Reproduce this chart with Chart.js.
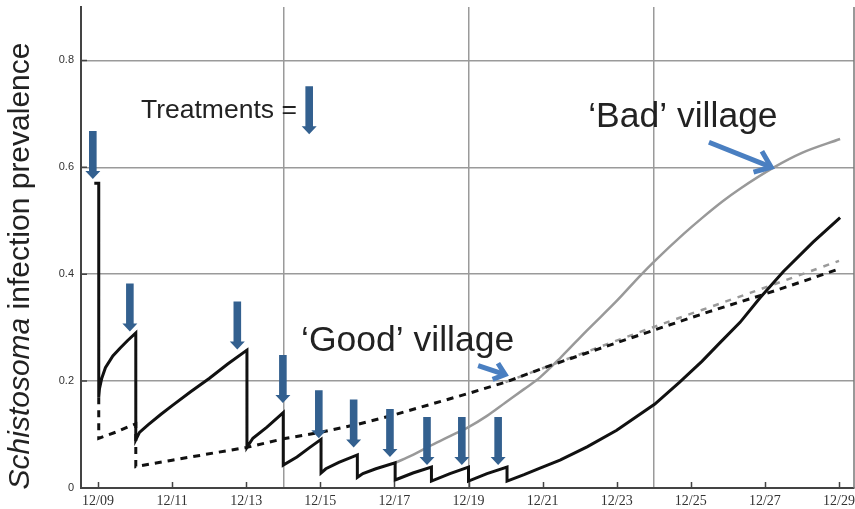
<!DOCTYPE html>
<html><head><meta charset="utf-8">
<script src="https://cdn.jsdelivr.net/npm/chart.js@4/dist/chart.umd.min.js"></script>
<style>html,body{margin:0;padding:0;background:#fff}#wrap{width:855px;height:509px}</style>
</head><body><div id="wrap"><canvas id="c" width="855" height="509"></canvas></div>
<script>
// ---- tick labels / axes ----
const tickYears = [2009, 2011, 2013, 2015, 2017, 2019, 2021, 2023, 2025, 2027, 2029];
const gridYears = [2014, 2019, 2024];
const yTicks = [0, 0.2, 0.4, 0.6, 0.8];

// ---- series: treated village (black solid, sawtooth + rebound) ----
const solidYears = [2008.9, 2009.02, 2009.02, 2009.04, 2009.1, 2009.2, 2009.4, 2009.6, 2009.8, 2010.02,
  2010.02, 2010.12, 2010.35, 2010.7, 2011.02, 2011.5, 2012.0, 2012.5, 2013.02,
  2013.02, 2013.18, 2013.56, 2014.0,
  2014.0, 2014.37, 2014.7, 2015.02,
  2015.02, 2015.15, 2015.5, 2016.0,
  2016.0, 2016.15, 2016.5, 2017.02,
  2017.02, 2017.5, 2018.0,
  2018.0, 2018.5, 2019.0,
  2019.0, 2019.5, 2020.04,
  2020.04, 2020.5, 2020.93, 2021.47, 2022.2, 2023.0, 2024.03, 2024.7, 2025.3, 2025.79, 2026.33, 2026.87, 2027.5, 2028.3, 2029.03];
const solidValues = [0.57, 0.57, 0.17, 0.186, 0.205, 0.225, 0.247, 0.262, 0.276, 0.29,
  0.09, 0.104, 0.118, 0.138, 0.155, 0.18, 0.205, 0.232, 0.258,
  0.076, 0.093, 0.114, 0.141,
  0.043, 0.058, 0.075, 0.091,
  0.028, 0.036, 0.048, 0.062,
  0.02, 0.027, 0.036, 0.047,
  0.015, 0.028, 0.039,
  0.013, 0.027, 0.039,
  0.013, 0.027, 0.039,
  0.013, 0.025, 0.037, 0.052, 0.077, 0.108, 0.157, 0.198, 0.237, 0.272, 0.31, 0.356, 0.405, 0.46, 0.506];

// ---- black dashed ----
const dashYears = [2009.02, 2009.02, 2009.5, 2009.86, 2010.02, 2010.02, 2010.5, 2011.0, 2011.75, 2012.5, 2013.02,
  2014.0, 2015.0, 2016.0, 2017.0, 2018.0, 2019.0, 2020.0, 2021.2, 2022.5, 2024.03, 2025.5, 2026.87, 2028.0, 2029.0];
const dashValues = [0.17, 0.093, 0.105, 0.116, 0.12, 0.04, 0.046, 0.052, 0.061, 0.07, 0.076,
  0.092, 0.104, 0.119, 0.137, 0.157, 0.177, 0.198, 0.229, 0.26, 0.296, 0.33, 0.36, 0.386, 0.41];

// ---- grey dashed ----
const greyDashYears = [2020.0, 2022.0, 2024.03, 2026.6, 2029.0];
const greyDashValues = [0.198, 0.25, 0.302, 0.365, 0.425];

// ---- grey solid ('Bad' village) ----
const greyYears = [2017.02, 2017.5, 2018.0, 2018.5, 2019.0, 2019.5, 2020.0, 2020.5, 2020.93, 2021.5, 2022.2, 2023.0,
  2023.63, 2024.03, 2024.8, 2025.3, 2025.87, 2026.33, 2027.22, 2028.0, 2029.03];
const greyValues = [0.047, 0.062, 0.08, 0.097, 0.114, 0.135, 0.16, 0.185, 0.207, 0.245, 0.295, 0.35,
  0.397, 0.425, 0.475, 0.505, 0.537, 0.56, 0.599, 0.627, 0.653];

// ---- treatments ----
const treatmentYears = [2008.86, 2009.86, 2012.76, 2013.99, 2014.96, 2015.9, 2016.88, 2017.88, 2018.82, 2019.8];
const treatmentArrowTips = [0.578, 0.293, 0.259, 0.159, 0.093, 0.076, 0.058, 0.043, 0.043, 0.043];

const pts = (xs, ys) => xs.map((x, i) => ({x, y: ys[i]}));

const annot = {
  id: 'annot',
  afterDatasetsDraw(chart) {
    const {ctx, scales: {x, y}, chartArea: ca} = chart;
    const X = v => x.getPixelForValue(v), Y = v => y.getPixelForValue(v);
    ctx.save();
    // inside tick marks
    ctx.strokeStyle = '#444'; ctx.lineWidth = 1.5;
    ctx.beginPath();
    tickYears.forEach(t => { const p = Math.round(X(t)) + 0.5; ctx.moveTo(p, ca.bottom); ctx.lineTo(p, ca.bottom - 6); });
    yTicks.forEach(v => { if (v > 0) { const p = Y(v); ctx.moveTo(ca.left, p); ctx.lineTo(ca.left + 6, p); } });
    ctx.stroke();
    // right frame
    ctx.strokeStyle = '#777'; ctx.lineWidth = 1.5;
    ctx.beginPath(); ctx.moveTo(ca.right, ca.top); ctx.lineTo(ca.right, ca.bottom); ctx.stroke();

    // treatment arrows
    const down = (px, tipY) => {
      const len = 48, hw = 3.8, hh = 7.5, hl = 8;
      ctx.fillStyle = '#33608f';
      ctx.beginPath();
      ctx.moveTo(px - hw, tipY - len);
      ctx.lineTo(px + hw, tipY - len);
      ctx.lineTo(px + hw, tipY - hl);
      ctx.lineTo(px + hh, tipY - hl);
      ctx.lineTo(px, tipY);
      ctx.lineTo(px - hh, tipY - hl);
      ctx.lineTo(px - hw, tipY - hl);
      ctx.closePath(); ctx.fill();
    };
    treatmentYears.forEach((t, i) => down(X(t), Y(treatmentArrowTips[i])));
    down(X(2014.7), Y(0.662));

    // callout arrows
    const callout = (x0, y0, x1, y1, head) => {
      ctx.strokeStyle = '#4a7fc1'; ctx.lineWidth = 5; ctx.lineCap = 'butt'; ctx.lineJoin = 'miter';
      const a = Math.atan2(y1 - y0, x1 - x0);
      ctx.beginPath(); ctx.moveTo(x0, y0); ctx.lineTo(x1 - 2 * Math.cos(a), y1 - 2 * Math.sin(a)); ctx.stroke();
      ctx.beginPath();
      ctx.moveTo(x1 - head * Math.cos(a - 0.6), y1 - head * Math.sin(a - 0.6));
      ctx.lineTo(x1 - 2 * Math.cos(a), y1 - 2 * Math.sin(a));
      ctx.lineTo(x1 - head * Math.cos(a + 0.6), y1 - head * Math.sin(a + 0.6));
      ctx.stroke();
    };
    callout(X(2025.49), Y(0.647), X(2027.22), Y(0.599), 20);
    callout(X(2019.26), Y(0.229), X(2020.04), Y(0.211), 15);

    // texts
    ctx.fillStyle = '#222'; ctx.textBaseline = 'alphabetic'; ctx.textAlign = 'left';
    ctx.font = '26.5px "Liberation Sans", Arial, sans-serif';
    ctx.fillText('Treatments =', X(2010.16), Y(0.692));
    ctx.font = '35.5px "Liberation Sans", Arial, sans-serif';
    ctx.fillText('\u2018Bad\u2019 village', X(2022.23), Y(0.675));
    ctx.fillText('\u2018Good\u2019 village', X(2014.48), Y(0.257));

    // y-axis title
    ctx.translate(21, 266);
    ctx.rotate(-Math.PI / 2);
    ctx.textBaseline = 'middle';
    const f1 = 'italic 30px "Liberation Sans", Arial, sans-serif';
    const f2 = '30px "Liberation Sans", Arial, sans-serif';
    const t1 = 'Schistosoma', t2 = ' infection prevalence';
    ctx.font = f1; const w1 = ctx.measureText(t1).width;
    ctx.font = f2; const w2 = ctx.measureText(t2).width;
    let sx = -(w1 + w2) / 2;
    ctx.font = f1; ctx.fillText(t1, sx, 0);
    ctx.font = f2; ctx.fillText(t2, sx + w1, 0);
    ctx.restore();
  }
};

const allTicks = [...new Set([...tickYears, ...gridYears])].sort((a, b) => a - b);

new Chart(document.getElementById('c'), {
  type: 'line',
  data: {
    datasets: [
      {data: pts(solidYears, solidValues), borderColor: '#111', borderWidth: 3, tension: 0, pointRadius: 0},
      {data: pts(dashYears, dashValues), borderColor: '#111', borderWidth: 3, borderDash: [7, 6], tension: 0, pointRadius: 0},
      {data: pts(greyDashYears, greyDashValues), borderColor: '#9a9a9a', borderWidth: 2.5, borderDash: [6, 7], tension: 0.3, pointRadius: 0},
      {data: pts(greyYears, greyValues), borderColor: '#999', borderWidth: 2.5, tension: 0.3, cubicInterpolationMode: 'monotone', pointRadius: 0}
    ]
  },
  options: {
    responsive: false, animation: false,
    layout: {padding: {top: 7, right: 1, left: 0, bottom: 0}},
    plugins: {legend: {display: false}, tooltip: {enabled: false}},
    scales: {
      x: {
        type: 'linear', min: 2008.541, max: 2029.405,
        afterBuildTicks: s => { s.ticks = allTicks.map(v => ({value: v})); },
        ticks: {autoSkip: false, maxRotation: 0, minRotation: 0, padding: 5, color: '#333',
          font: {family: '"Liberation Serif", serif', size: 14},
          callback: v => tickYears.includes(v) ? '12/' + String(v % 100).padStart(2, '0') : ''},
        grid: {drawTicks: false, lineWidth: 1.5,
          color: c => (c.tick && gridYears.includes(c.tick.value)) ? '#9a9a9a' : 'rgba(0,0,0,0)'},
        border: {display: true, color: '#444', width: 2},
        afterFit: s => { s.height = 21; s.paddingLeft = 0; s.paddingRight = 0; }
      },
      y: {
        min: 0, max: 0.9,
        afterBuildTicks: s => { s.ticks = yTicks.map(v => ({value: v})); },
        ticks: {padding: 7, color: '#333', font: {family: '"Liberation Sans", Arial, sans-serif', size: 11},
          callback: v => v === 0 ? '0' : v.toFixed(1)},
        grid: {drawTicks: false, lineWidth: 1.5,
          color: c => (c.tick && c.tick.value > 0) ? '#9a9a9a' : 'rgba(0,0,0,0)'},
        border: {display: true, color: '#444', width: 2},
        afterFit: s => { s.width = 81; s.paddingTop = 0; s.paddingBottom = 0; }
      }
    }
  },
  plugins: [annot]
});
</script></body></html>
